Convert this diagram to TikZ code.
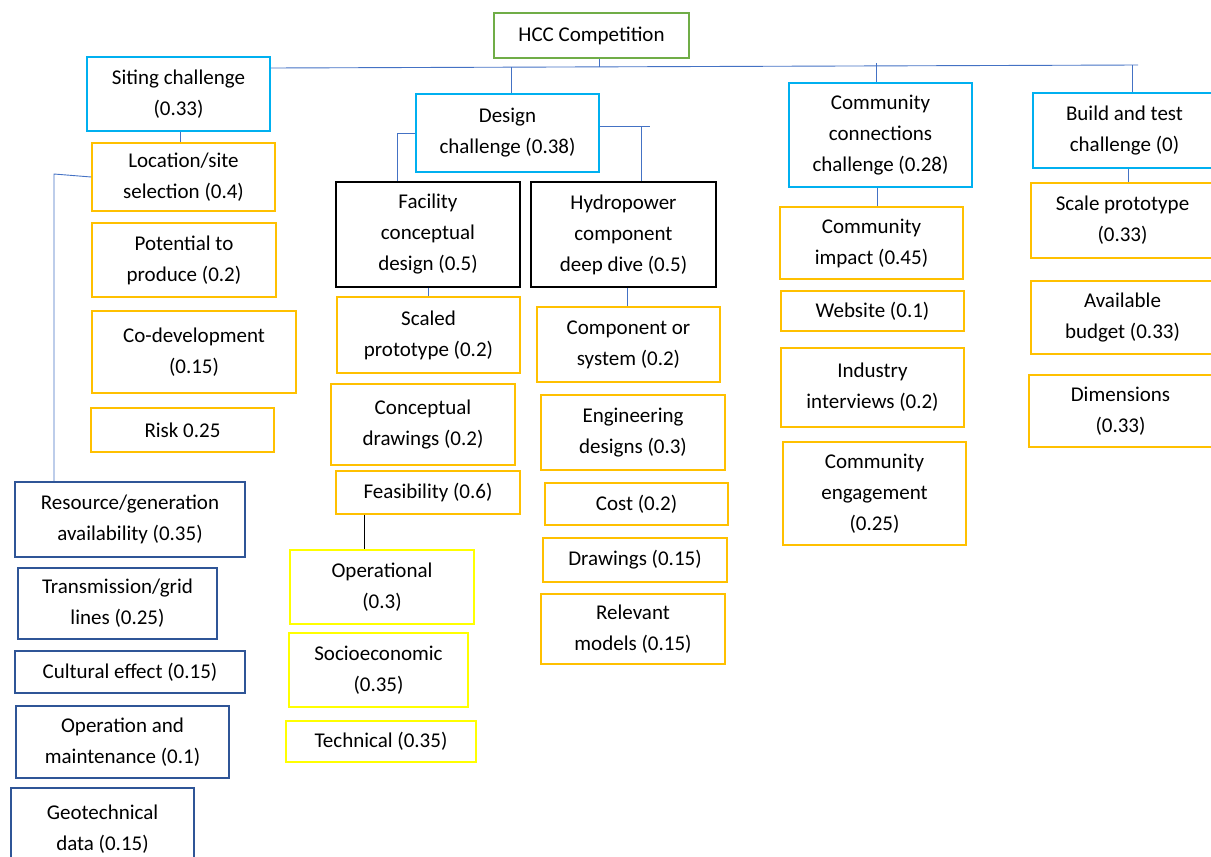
\documentclass[tikz,border=0pt]{standalone}
\usepackage{fontspec}
\setmainfont{Carlito}
\definecolor{hccgreen}{HTML}{70AD47}
\definecolor{hcccyan}{HTML}{00B0F0}
\definecolor{hccorange}{HTML}{FFC000}
\definecolor{hccyellow}{HTML}{FFFF00}
\definecolor{hccblue}{HTML}{2F5597}
\definecolor{hccline}{HTML}{4472C4}
\tikzset{
  box/.style={draw, line width=1.6pt, align=center, inner sep=0pt,
    font=\fontsize{21}{31}\selectfont},
  wh/.style 2 args={minimum width=#1, minimum height=#2},
  root/.style={box, draw=hccgreen},
  challenge/.style={box, draw=hcccyan},
  subchallenge/.style={box, draw=black},
  crit/.style={box, draw=hccorange},
  sitecrit/.style={box, draw=hccblue},
  feascrit/.style={box, draw=hccyellow},
  link/.style={draw=hccline, line width=0.9pt}
}
\begin{document}
\begin{tikzpicture}[x=1pt, y=-1pt]
      \useasboundingbox (0,0) rectangle (1211,857);
      \clip (0,0) rectangle (1211,857);
      \draw
        (591.5,35.5) node[root, wh={195}{45}] (hcc){HCC Competition}
        (178.5,94) node[challenge, wh={183}{74}] (siting){Siting challenge\\(0.33)}
        (507.5,133) node[challenge, wh={183}{78}] (design){Design\\challenge (0.38)}
        (880.5,135) node[challenge, wh={183}{104}] (community){Community\\connections\\challenge (0.28)}
        (1124.5,130.5) node[challenge, wh={183}{75}] (build){Build and test\\challenge (0)};
      \draw
        (183.5,177) node[crit, wh={183}{68}] (location){Location/site\\selection (0.4)}
        (184,260) node[crit, wh={184}{74}] (potential){Potential to\\produce (0.2)}
        (194,352) node[crit, wh={204}{82}] (codev){Co-development\\(0.15)}
        (182.5,430) node[crit, wh={183}{44}] (risk){Risk 0.25};
      \draw
        (130,519.5) node[sitecrit, wh={230}{75}] (resource){Resource/generation\\availability (0.35)}
        (117.5,603.5) node[sitecrit, wh={199}{71}] (transmission){Transmission/grid\\lines (0.25)}
        (130,672) node[sitecrit, wh={230}{42}] (cultural){Cultural effect (0.15)}
        (122.5,742) node[sitecrit, wh={213}{72}] (operation){Operation and\\maintenance (0.1)}
        (102.5,829) node[sitecrit, wh={183}{82}] (geotech){Geotechnical\\data (0.15)};
      \draw
        (428,234.5) node[subchallenge, wh={184}{105}] (facility){Facility\\conceptual\\design (0.5)}
        (623.5,234.5) node[subchallenge, wh={185}{105}] (hydro){Hydropower\\component\\deep dive (0.5)};
      \draw
        (428.5,335) node[crit, wh={183}{76}] (scaled){Scaled\\prototype (0.2)}
        (423,424.5) node[crit, wh={184}{81}] (concdrawings){Conceptual\\drawings (0.2)}
        (428,492.5) node[crit, wh={184}{43}] (feasibility){Feasibility (0.6)};
      \draw
        (382,587) node[feascrit, wh={184}{74}] (operational){Operational\\(0.3)}
        (378.5,670) node[feascrit, wh={179}{74}] (socio){Socioeconomic\\(0.35)}
        (381,741.5) node[feascrit, wh={190}{41}] (technical){Technical (0.35)};
      \draw
        (628.5,344.5) node[crit, wh={183}{75}] (component){Component or\\system (0.2)}
        (633,432.5) node[crit, wh={184}{75}] (engineering){Engineering\\designs (0.3)}
        (636.5,504) node[crit, wh={183}{42}] (cost){Cost (0.2)}
        (635,560) node[crit, wh={184}{44}] (hdrawings){Drawings (0.15)}
        (633,629) node[crit, wh={184}{70}] (models){Relevant\\models (0.15)};
      \draw
        (871.5,243) node[crit, wh={183}{72}] (impact){Community\\impact (0.45)}
        (872.5,311) node[crit, wh={183}{40}] (website){Website (0.1)}
        (872.5,387.5) node[crit, wh={183}{79}] (interviews){Industry\\interviews (0.2)}
        (874.5,493.5) node[crit, wh={183}{103}] (engagement){Community\\engagement\\(0.25)};
      \draw
        (1122.5,220.5) node[crit, wh={183}{75}] (scale){Scale prototype\\(0.33)}
        (1122.5,317.5) node[crit, wh={183}{73}] (budget){Available\\budget (0.33)}
        (1120.5,411) node[crit, wh={183}{72}] (dimensions){Dimensions\\(0.33)};
      \coordinate (busend) at (1138,65);
      \coordinate (sitebranch) at (54,174);
      \coordinate (designleft) at (397,133);
      \coordinate (designright) at (650,126);
      \coordinate (hydrodrop) at (641,126);
      \begin{scope}[link]
        \draw (siting.east |- 0,68) -- (busend);
        \draw ([xshift=8]hcc.south) -- ([xshift=8]hcc.south |- 0,67);
        \draw ([xshift=4]design.north) -- ([xshift=4]design.north |- 0,67);
        \draw ([xshift=-4]community.north) -- ([xshift=-4]community.north |- 0,63);
        \draw ([xshift=8]build.north) -- ([xshift=8]build.north |- busend);
        \draw ([xshift=2]siting.south) -- ([xshift=2]siting.south |- location.north);
        \draw (location.west) -- (sitebranch) -- (sitebranch |- resource.north);
        \draw (design.west) -- (designleft) -- (designleft |- facility.north);
        \draw (design.east |- designright) -- (designright);
        \draw (hydrodrop) -- (hydrodrop |- hydro.north);
        \draw (facility.south) -- (facility.south |- scaled.north);
        \draw ([xshift=4]hydro.south) -- ([xshift=4]hydro.south |- component.north);
        \draw ([xshift=-3]community.south) -- ([xshift=-3]community.south |- impact.north);
        \draw ([xshift=4]build.south) -- ([xshift=4]build.south |- scale.north);
      \end{scope}
      \draw[black, line width=0.9pt] ([xshift=-64]feasibility.south) -- ([xshift=-64]feasibility.south |- operational.north);
    \end{tikzpicture}
\end{document}
